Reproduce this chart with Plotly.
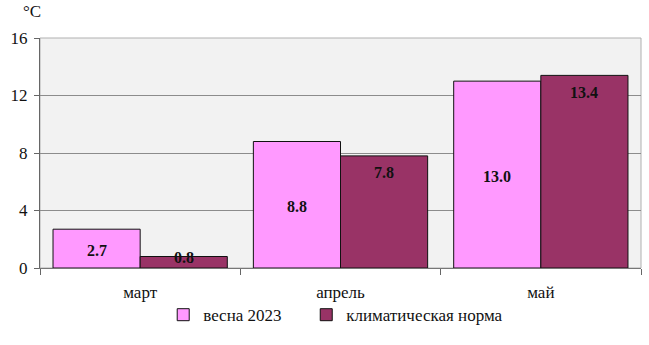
import plotly.graph_objects as go

months = ["март", "апрель", "май"]
spring_2023 = [2.7, 8.8, 13.0]
climate_norm = [0.8, 7.8, 13.4]
y_ticks = [0, 4, 8, 12, 16]

PINK = "#ff99ff"
MAROON = "#993366"
FONT = "Liberation Serif, 'Times New Roman', serif"

fig = go.Figure()
fig.add_trace(go.Bar(
    x=months, y=spring_2023, name="весна 2023", legend="legend",
    marker=dict(color=PINK, line=dict(color="#111111", width=1)),
))
fig.add_trace(go.Bar(
    x=months, y=climate_norm, name="климатическая норма", legend="legend2",
    marker=dict(color=MAROON, line=dict(color="#111111", width=1)),
))

# value labels: light bars centred, dark bars near the top end
px_per_unit = 230 / 16
for m, v in zip(months, spring_2023):
    fig.add_annotation(x=m, y=v / 2, text=f"<b>{v:.1f}</b>", showarrow=False,
                       xshift=-43.5, yshift=-2,
                       font=dict(family=FONT, size=16, color="#111111"))
for m, v in zip(months, climate_norm):
    shift = -17 if v * px_per_unit > 30 else -1
    fig.add_annotation(x=m, y=v, text=f"<b>{v:.1f}</b>", showarrow=False,
                       xshift=43.5, yanchor="middle", yshift=shift,
                       font=dict(family=FONT, size=16, color="#111111"))

fig.add_annotation(xref="paper", yref="paper", x=-0.013, y=1.115, text="°C",
                   showarrow=False, xanchor="center", yanchor="middle",
                   font=dict(family=FONT, size=17, color="#111111"))

legend_style = dict(orientation="h", xanchor="left", y=-0.205, yanchor="middle",
                    font=dict(family=FONT, size=17, color="#111111"),
                    itemwidth=30, bgcolor="rgba(0,0,0,0)")

fig.update_layout(
    width=649, height=345,
    margin=dict(l=40, r=8, t=38, b=77),
    paper_bgcolor="white",
    plot_bgcolor="#f2f2f2",
    barmode="group", bargap=0.13, bargroupgap=0,
    font=dict(family=FONT, size=16, color="#111111"),
    showlegend=True,
    legend=dict(x=0.205, **legend_style),
    legend2=dict(x=0.443, **legend_style),
    xaxis=dict(
        type="category", tickson="boundaries", ticks="outside", ticklen=6,
        tickcolor="#666666", showgrid=False, showline=True, linecolor="#777777",
        linewidth=1, ticklabelstandoff=9,
        tickfont=dict(family=FONT, size=17, color="#111111"),
    ),
    yaxis=dict(
        range=[0, 16], tickvals=y_ticks, ticks="outside", ticklen=5,
        tickcolor="#666666", showgrid=True, gridcolor="#8c8c8c", gridwidth=1,
        showline=True, linecolor="#666666", linewidth=1, zeroline=False,
        ticklabelstandoff=3,
        tickfont=dict(family=FONT, size=17, color="#111111"),
    ),
)
# light frame around the plotting area
fig.add_shape(type="rect", xref="paper", yref="paper", x0=0, y0=0, x1=1, y1=1,
              line=dict(color="#b0b0b0", width=1), layer="below")

fig.write_html("out.html")
